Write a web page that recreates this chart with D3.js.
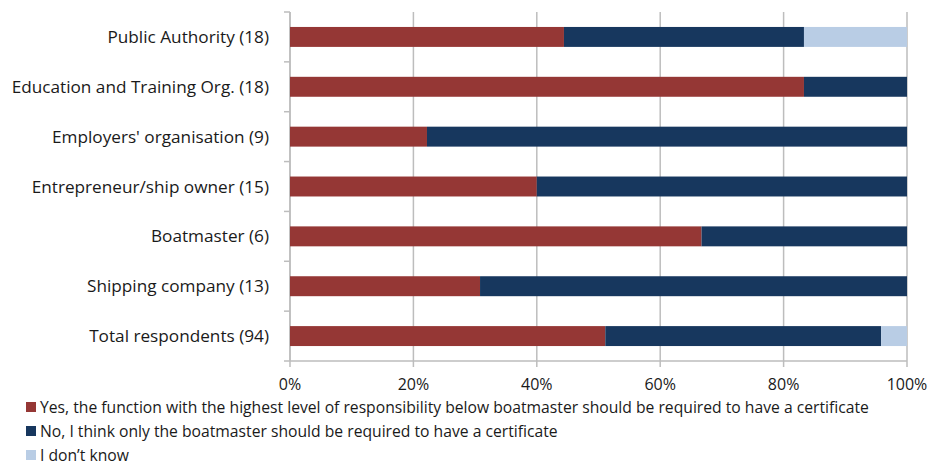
<!DOCTYPE html>
<html>
<head>
<meta charset="utf-8">
<script src="https://cdn.jsdelivr.net/npm/d3@7"></script>
<style>
  html, body { margin: 0; padding: 0; background: #fff; }
  svg { display: block; font-family: "Open Sans", Lato, sans-serif; }
</style>
</head>
<body>
<svg id="chart" width="930" height="466"></svg>
<script>
// Respondent groups (top to bottom) and share of answers in percent
const categories = [
  "Public Authority (18)",
  "Education and Training Org. (18)",
  "Employers' organisation (9)",
  "Entrepreneur/ship owner (15)",
  "Boatmaster (6)",
  "Shipping company (13)",
  "Total respondents (94)"
];
const yesValues      = [44.4, 83.3, 22.2, 40.0, 66.7, 30.8, 51.1];
const noValues       = [38.9, 16.7, 77.8, 60.0, 33.3, 69.2, 44.7];
const dontKnowValues = [16.7, 0, 0, 0, 0, 0, 4.2];

const seriesNames = [
  "Yes, the function with the highest level of responsibility below boatmaster should be required to have a certificate",
  "No, I think only the boatmaster should be required to have a certificate",
  "I don\u2019t know"
];
const seriesColors = ["#953735", "#17375E", "#B9CDE5"];
const tickValues = [0, 20, 40, 60, 80, 100];

const rows = categories.map((c, i) => ({
  cat: c, s0: yesValues[i], s1: noValues[i], s2: dontKnowValues[i]
}));
const stack = d3.stack().keys(["s0", "s1", "s2"])(rows);

const svg = d3.select("#chart");
const plotLeft = 290, plotRight = 907, plotTop = 12, plotBottom = 361;

const x = d3.scaleLinear().domain([0, 100]).range([plotLeft, plotRight]);
const y = d3.scaleBand().domain(categories).range([plotTop, plotBottom]).paddingInner(0.6).paddingOuter(0.3);
const yEdges = d3.scaleLinear().domain([0, categories.length]).range([plotTop, plotBottom]);

const gridColor = "#BDBDBD";

// vertical gridlines with small ticks below the axis
svg.append("g").selectAll("line").data(tickValues).join("line")
  .attr("x1", d => x(d)).attr("x2", d => x(d))
  .attr("y1", plotTop).attr("y2", plotBottom + 6)
  .attr("stroke", gridColor).attr("stroke-width", 1.5);

// category axis line and tick marks between bands
svg.append("line")
  .attr("x1", plotLeft).attr("x2", plotLeft).attr("y1", plotTop).attr("y2", plotBottom)
  .attr("stroke", gridColor).attr("stroke-width", 1.5);
svg.append("g").selectAll("line").data(d3.range(categories.length + 1)).join("line")
  .attr("x1", plotLeft - 6).attr("x2", plotLeft)
  .attr("y1", d => yEdges(d)).attr("y2", d => yEdges(d))
  .attr("stroke", gridColor).attr("stroke-width", 1.5);

// value axis line
svg.append("line")
  .attr("x1", plotLeft).attr("x2", plotRight).attr("y1", plotBottom).attr("y2", plotBottom)
  .attr("stroke", gridColor).attr("stroke-width", 1.5);

// stacked bars
svg.append("g").selectAll("g").data(stack).join("g")
  .attr("fill", (d, i) => seriesColors[i])
  .selectAll("rect").data(d => d).join("rect")
  .attr("x", d => x(d[0]))
  .attr("width", d => Math.max(0, x(d[1]) - x(d[0])))
  .attr("y", d => y(d.data.cat))
  .attr("height", y.bandwidth());

// category labels
svg.append("g").selectAll("text").data(categories).join("text")
  .attr("x", plotLeft - 21)
  .attr("y", d => y(d) + y.bandwidth() / 2)
  .attr("dy", "0.35em")
  .attr("text-anchor", "end")
  .attr("font-size", 17.2)
  .attr("fill", "#1a1a1a")
  .text(d => d);

// value tick labels
svg.append("g").selectAll("text").data(tickValues).join("text")
  .attr("x", d => x(d))
  .attr("y", 390)
  .attr("text-anchor", "middle")
  .attr("font-size", 16)
  .attr("fill", "#1a1a1a")
  .text(d => d + "%");

// legend
const legend = svg.append("g").selectAll("g").data(seriesNames).join("g")
  .attr("transform", (d, i) => `translate(26, ${407 + i * 24})`);
legend.append("rect")
  .attr("x", 0).attr("y", -5).attr("width", 10).attr("height", 10)
  .attr("fill", (d, i) => seriesColors[i]);
legend.append("text")
  .attr("x", 14).attr("y", 0).attr("dy", "0.35em")
  .attr("font-size", 15.7)
  .attr("fill", "#1a1a1a")
  .text(d => d);
</script>
</body>
</html>
